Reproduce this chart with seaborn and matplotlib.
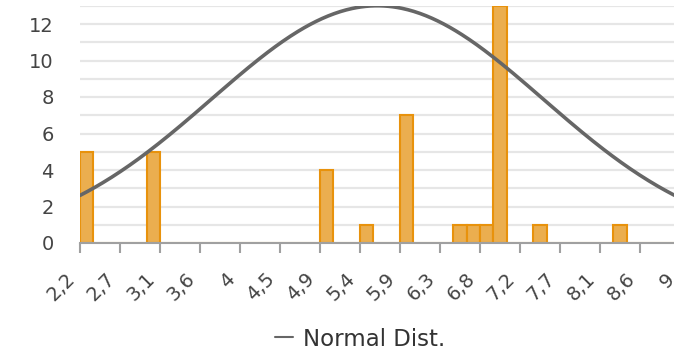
import numpy as np
import pandas as pd
import matplotlib
matplotlib.use("Agg")
import matplotlib.pyplot as plt
import matplotlib.transforms as mtransforms
import seaborn as sns
from matplotlib.lines import Line2D

# ---- data ----
bin_centers = [2.276, 3.031, 4.996, 5.449, 5.903, 6.507, 6.658, 6.809, 6.960, 7.414, 8.320]
counts = [5, 5, 4, 1, 7, 1, 1, 1, 13, 1, 1]
tick_values = [2.2, 2.653, 3.107, 3.56, 4.013, 4.467, 4.92, 5.373, 5.827, 6.28, 6.733, 7.187, 7.64, 8.093, 8.547, 9.0]
tick_labels = ["2,2", "2,7", "3,1", "3,6", "4", "4,5", "4,9", "5,4", "5,9", "6,3",
               "6,8", "7,2", "7,7", "8,1", "8,6", "9"]
norm_mean = 5.57
norm_sd = 1.88
norm_peak = 13

df = pd.DataFrame({"value": bin_centers, "count": counts})

sns.set_style("white")
plt.rcParams["font.family"] = ["DejaVu Sans"]

W, H = 674, 354
fig = plt.figure(figsize=(W / 100, H / 100), dpi=100)
left, right = 80, 680
bottom_px, top_px = 243, 5.75
ax = fig.add_axes([left / W, (H - bottom_px) / H, (right - left) / W, (bottom_px - top_px) / H])

# grid lines every 1 unit
for yv in range(1, 14):
    ax.axhline(yv, color="#E6E6E6", lw=1.6, zorder=0)

sns.histplot(data=df, x="value", weights="count", bins=45, binrange=(2.2, 9.0),
             color="#EBAE4F", edgecolor="#E8920C", linewidth=1.5, alpha=1.0,
             ax=ax, zorder=2)

xs = np.linspace(2.2, 9.0, 400)
ys = norm_peak * np.exp(-0.5 * ((xs - norm_mean) / norm_sd) ** 2)
sns.lineplot(x=xs, y=ys, color="#666666", lw=2.6, ax=ax, zorder=3)

ax.set_xlim(2.2, 9.0)
ax.set_ylim(0, 13)
ax.set_yticks([0, 2, 4, 6, 8, 10, 12])
ax.set_xticks(tick_values)
ax.set_xticklabels(tick_labels, rotation=45, ha="right", va="top", rotation_mode="anchor")
ax.set_xlabel("")
ax.set_ylabel("")
for s in ["top", "right", "left"]:
    ax.spines[s].set_visible(False)
ax.spines["bottom"].set_color("#A0A0A0")
ax.spines["bottom"].set_linewidth(1.5)
ax.tick_params(axis="x", length=7, width=1.5, color="#A0A0A0", labelsize=14,
               labelcolor="#444444", pad=4, direction="out", bottom=True)
ax.tick_params(axis="y", length=0, labelsize=14, labelcolor="#444444", pad=19)

offset = mtransforms.ScaledTranslation(-0.15, -0.11, fig.dpi_scale_trans)
for lab in ax.get_xticklabels():
    lab.set_transform(lab.get_transform() + offset)

handle = Line2D([0], [0], color="#666666", lw=1.5)
fig.legend([handle], ["Normal Dist."], loc="center", bbox_to_anchor=(360 / W, 15 / H),
           frameon=False, fontsize=16.5, handlelength=0.8, handletextpad=0.4,
           labelcolor="#333333")

fig.savefig("out.png", dpi=100)
